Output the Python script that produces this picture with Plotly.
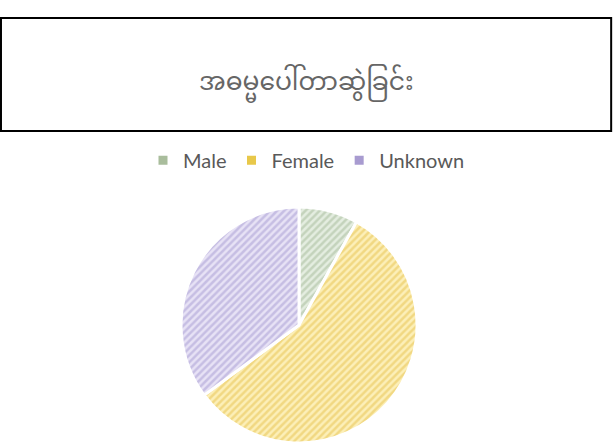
import plotly.graph_objects as go

title_text = "အဓမ္မပေါ်တာဆွဲခြင်း"
categories = ["Male", "Female", "Unknown"]
values = [3, 21, 13]
bg_colors = ["#e4ede0", "#fcefb8", "#e7e2f5"]
fg_colors = ["#a3ba98", "#e6c24c", "#a699d2"]
legend_colors = ["#a9bd9c", "#e8c84a", "#a89bd0"]

fig = go.Figure()
fig.add_trace(go.Pie(
    labels=categories,
    values=values,
    sort=False,
    direction="clockwise",
    rotation=0,
    textinfo="none",
    hoverinfo="label+value+percent",
    showlegend=False,
    marker=dict(
        colors=bg_colors,
        line=dict(color="white", width=3),
        pattern=dict(shape="/", fgcolor=fg_colors, bgcolor=bg_colors,
                     size=5, solidity=0.5, fillmode="overlay"),
    ),
    domain=dict(x=[0.2953, 0.6803], y=[0.0045, 0.5348]),
))

for name, col in zip(categories, legend_colors):
    fig.add_trace(go.Scatter(
        x=[None], y=[None], mode="markers", name=name,
        marker=dict(symbol="square", size=9, color=col),
        showlegend=True,
    ))

fig.update_layout(
    width=613, height=445,
    margin=dict(l=0, r=0, t=0, b=0),
    paper_bgcolor="white", plot_bgcolor="white",
    xaxis=dict(visible=False), yaxis=dict(visible=False),
    legend=dict(orientation="h", x=0.5, xanchor="center", y=0.64, yanchor="middle",
                font=dict(family="Lato, Open Sans, sans-serif", size=20, color="#595959"),
                itemwidth=30, tracegroupgap=0, bgcolor="rgba(0,0,0,0)"),
    shapes=[dict(type="rect", xref="paper", yref="paper",
                 x0=0.0016, x1=0.997, y0=0.7056, y1=0.9596,
                 line=dict(color="black", width=2), fillcolor="rgba(0,0,0,0)")],
    annotations=[dict(text=title_text, xref="paper", yref="paper", x=0.5, y=0.809,
                      xanchor="center", yanchor="middle", showarrow=False,
                      font=dict(family="Noto Sans Myanmar, Padauk, Myanmar Text, sans-serif",
                                size=25, color="#666666", weight="normal"))],
)

fig.write_html("out.html", config={"displayModeBar": False},
               post_script="document.body.style.margin='0';")
